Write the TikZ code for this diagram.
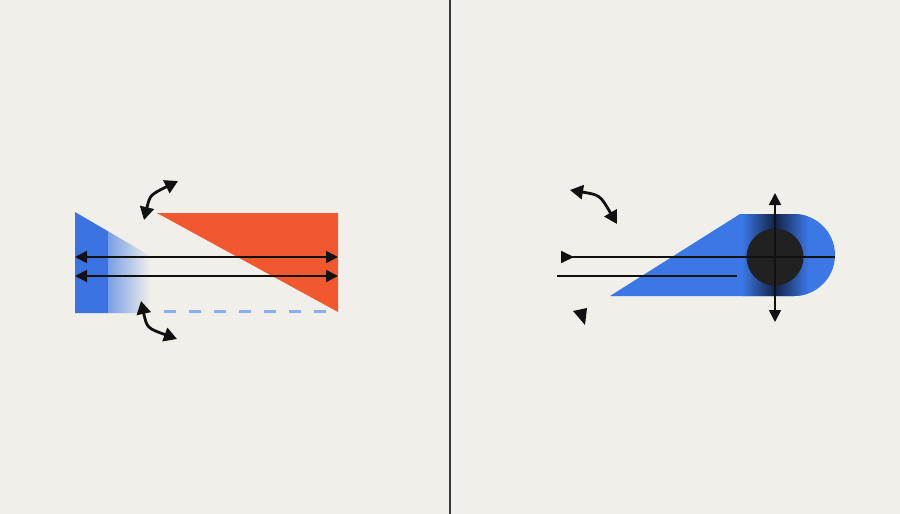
\documentclass[tikz,border=0pt]{standalone}
\usetikzlibrary{arrows.meta}
\definecolor{bg}{HTML}{F0EFE9}
\definecolor{bluea}{HTML}{3B73E3}
\definecolor{blueb}{HTML}{3C77E6}
\definecolor{redo}{HTML}{F2582F}
\definecolor{dashb}{HTML}{8AAEF0}
\definecolor{ink}{HTML}{111111}
\definecolor{divider}{HTML}{3A3A3A}
\begin{document}
\begin{tikzpicture}[x=1pt,y=-1pt,
  dbl/.style={{Triangle[length=12pt,width=12pt]}-{Triangle[length=12pt,width=12pt]}, line width=1.8pt, draw=ink},
  curvy/.style={{Triangle[length=13pt,width=14pt]}-{Triangle[length=13pt,width=14pt]}, line width=2.8pt, draw=ink},
  plain/.style={line width=1.7pt, draw=ink}]
\fill[bg] (0,0) rectangle (900,514);
\useasboundingbox (0,0) rectangle (900,514);
% divider
\coordinate (dtop) at (450,0);
\coordinate (dbot) at (450,514);
\draw[divider, line width=2.2pt] (dtop) -- (dbot);

% ---------- left ----------
\begin{scope}
\clip (75,212) -- (152,257) -- (152,313) -- (75,313) -- cycle;
\fill[bluea] (74,205) rectangle (109,314);
\shade[left color=bluea!65!bg, right color=bg] (108.5,205) rectangle (150,314);
\end{scope}
\fill[redo] (157,213) -- (338,213) -- (338,312) -- cycle;
\draw[dashb, line width=3pt, dash pattern=on 12pt off 13pt] (164,311) -- (330,311);

\coordinate (l1a) at (75,257); \coordinate (l1b) at (338,257);
\coordinate (l2a) at (75,276); \coordinate (l2b) at (338,276);
\draw[dbl] (l1a) -- (l1b);
\draw[dbl] (l2a) -- (l2b);

\coordinate (ta) at (144,220); \coordinate (tb) at (178,181);
\draw[curvy] (ta) .. controls (150,195) .. (tb);
\coordinate (ba) at (141,301); \coordinate (bb) at (177,339);
\draw[curvy] (ba) .. controls (147,328) .. (bb);

% ---------- right ----------
\begin{scope}
\clip (610,296) -- (740,214) -- (794,214) arc[start angle=-90,end angle=90,radius=41] -- cycle;
\fill[blueb] (600,210) rectangle (850,300);
\shade[left color=blueb, right color=black!70!blueb] (742,210) rectangle (775,300);
\shade[left color=black!70!blueb, right color=blueb] (775,210) rectangle (808,300);
\end{scope}
\node[circle, fill=black!87, minimum size=57pt, inner sep=0pt] (ball) at (775,257) {};

\coordinate (ha) at (561,257); \coordinate (hb) at (835,257);
\draw[plain, {Triangle[length=13pt,width=12pt,reversed]}-] (ha) -- (hb);
\coordinate (h2a) at (557,276); \coordinate (h2b) at (737,276);
\draw[plain] (h2a) -- (h2b);

\coordinate (va) at (775,193); \coordinate (vb) at (775,322);
\draw[dbl] (va) -- (vb);

\coordinate (ra) at (570,190); \coordinate (rb) at (617,224);
\draw[curvy] (ra) .. controls (600,195) .. (rb);

\fill[ink] (573,311) -- (587,308) -- (585,325) -- cycle;
\end{tikzpicture}
\end{document}
